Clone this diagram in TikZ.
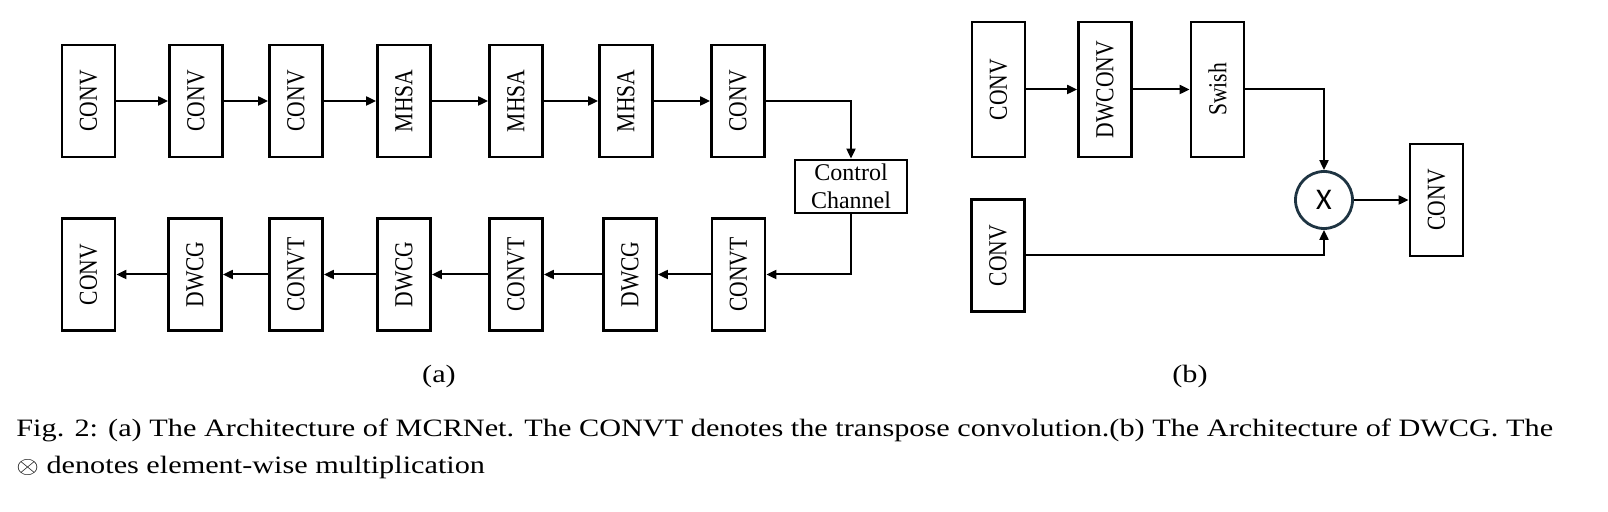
\documentclass[tikz,border=0pt]{standalone}
\usepackage{fontspec}
\usepackage{graphicx}
\setmainfont{Liberation Serif}
\newfontfamily\xfont{Carlito}
\usetikzlibrary{arrows.meta,positioning}
\definecolor{circcol}{HTML}{1E3442}
\tikzset{
  blk/.style={draw=black, line width=1.4pt, inner sep=0pt, minimum width=26.5pt, minimum height=56pt, font=\fontsize{10.8}{13}\selectfont},
  tallblk/.style={blk, minimum height=67.5pt},
  ctrlblk/.style={draw=black, line width=1.4pt, inner sep=0pt, minimum width=56pt, minimum height=26.5pt, align=center, font=\fontsize{12}{13.9}\selectfont},
  mulnode/.style={circle, draw=circcol, line width=1.4pt, inner sep=0pt, minimum size=28.5pt, font=\xfont\fontsize{15}{15}\selectfont},
  conn/.style={line width=1pt, -{Triangle[length=5pt,width=4.5pt]}},
  sublbl/.style={font=\fontsize{12.5}{14}\selectfont, anchor=base, inner sep=0pt},
  captxt/.style={font=\fontsize{12.5}{14}\selectfont, anchor=base west, inner sep=0pt}
}
\newcommand{\rl}[1]{\scalebox{1.2}[1]{\rotatebox{90}{#1}}}
\newcommand{\hs}[1]{\scalebox{1.21}[1]{#1}}
\begin{document}
\begin{tikzpicture}[x=0.5pt,y=-0.5pt]
\useasboundingbox (0,0) rectangle (1608,512);
% (a) top row
\node[blk] (t1) at (88.5,101) {\rl{CONV}};
\node[blk] (t2) at (196,101) {\rl{CONV}};
\node[blk] (t3) at (296,101) {\rl{CONV}};
\node[blk] (t4) at (404,101) {\rl{MHSA}};
\node[blk] (t5) at (516,101) {\rl{MHSA}};
\node[blk] (t6) at (626,101) {\rl{MHSA}};
\node[blk] (t7) at (738,101) {\rl{CONV}};
\node[ctrlblk] (cc) at (851,186.5) {Control\\Channel};
% (a) bottom row
\node[blk] (b7) at (738.5,274.5) {\rl{CONVT}};
\node[blk] (b6) at (630,274.5) {\rl{DWCG}};
\node[blk] (b5) at (516,274.5) {\rl{CONVT}};
\node[blk] (b4) at (404,274.5) {\rl{DWCG}};
\node[blk] (b3) at (296,274.5) {\rl{CONVT}};
\node[blk] (b2) at (195,274.5) {\rl{DWCG}};
\node[blk] (b1) at (88.5,274.5) {\rl{CONV}};
\draw[conn] (t1) -- (t2);
\draw[conn] (t2) -- (t3);
\draw[conn] (t3) -- (t4);
\draw[conn] (t4) -- (t5);
\draw[conn] (t5) -- (t6);
\draw[conn] (t6) -- (t7);
\draw[conn] (t7.east) -| (cc.north);
\draw[conn] (cc.south) |- (b7.east);
\draw[conn] (b7) -- (b6);
\draw[conn] (b6) -- (b5);
\draw[conn] (b5) -- (b4);
\draw[conn] (b4) -- (b3);
\draw[conn] (b3) -- (b2);
\draw[conn] (b2) -- (b1);
% (b)
\node[tallblk] (c1) at (998.5,89.5) {\rl{CONV}};
\node[tallblk] (dw) at (1105,89.5) {\rl{DWCONV}};
\node[tallblk] (sw) at (1217.5,89.5) {\rl{Swish}};
\node[mulnode] (mx) at (1324,200) {X};
\node[blk] (rc) at (1436.5,200) {\rl{CONV}};
\node[blk] (lc) at (998,255.5) {\rl{CONV}};
\draw[conn] (c1) -- (dw);
\draw[conn] (dw) -- (sw);
\draw[conn] (sw.east) -| (mx.north);
\draw[conn] (lc.east) -| (mx.south);
\draw[conn] (mx) -- (rc);
% labels
\node[sublbl] (la) at (439,383) {\hs{(a)}};
\node[sublbl] (lb) at (1190,383) {\hs{(b)}};
\node[captxt] (cap1) at (16,437) {\hs{\makebox[635pt][s]{Fig. 2: (a) The Architecture of MCRNet. The CONVT denotes the transpose convolution.(b) The Architecture of DWCG. The}}};
\node[captxt] (cap2) at (16,474) {\hs{$\otimes$ denotes element-wise multiplication}};
\end{tikzpicture}
\end{document}
